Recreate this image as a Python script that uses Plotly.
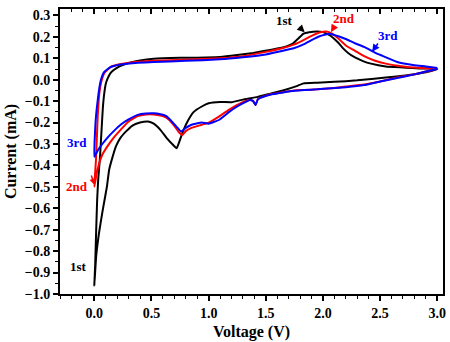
import plotly.graph_objects as go

# ---- data (Voltage V, Current mA), full CV loops: cathodic 3.0->0.0 then anodic 0.0->3.0
v1 = [3.0, 2.9, 2.75, 2.55, 2.3, 2.1, 1.95, 1.83, 1.77, 1.65, 1.54, 1.43, 1.3, 1.2, 1.1, 1.0, 0.94, 0.87, 0.82, 0.78, 0.75, 0.72,
      0.69, 0.63, 0.58, 0.52, 0.47, 0.40, 0.33, 0.28, 0.23, 0.19, 0.16, 0.13, 0.11, 0.09, 0.07, 0.04, 0.017, 0.0,
      0.008, 0.015, 0.025, 0.035, 0.05, 0.065, 0.075, 0.087, 0.1, 0.116, 0.14, 0.17, 0.22, 0.29, 0.4, 0.52, 0.75, 0.9,
      1.1, 1.25, 1.39, 1.55, 1.68, 1.74, 1.79, 1.83, 1.88, 1.95, 2.0, 2.05, 2.09, 2.13, 2.17, 2.22, 2.28, 2.35, 2.42,
      2.55, 2.7, 2.85, 2.95, 3.0]
i1 = [0.05, 0.035, 0.022, 0.01, -0.003, -0.01, -0.014, -0.017, -0.03, -0.05, -0.065, -0.08, -0.093, -0.105, -0.104, -0.11,
      -0.125, -0.15, -0.19, -0.235, -0.28, -0.32, -0.305, -0.27, -0.235, -0.205, -0.195, -0.2, -0.215, -0.24, -0.27, -0.31,
      -0.36, -0.42, -0.5, -0.56, -0.62, -0.72, -0.82, -0.96,
      -0.86, -0.73, -0.56, -0.46, -0.36, -0.22, -0.13, -0.064, -0.02, 0.005, 0.03, 0.045, 0.062, 0.077, 0.09, 0.098, 0.102,
      0.103, 0.106, 0.115, 0.125, 0.14, 0.155, 0.17, 0.195, 0.215, 0.222, 0.225, 0.222, 0.21, 0.195, 0.175, 0.15, 0.125,
      0.104, 0.087, 0.075, 0.062, 0.057, 0.052, 0.052, 0.05]

v2 = [3.0, 2.9, 2.8, 2.65, 2.5, 2.36, 2.2, 2.07, 1.95, 1.84, 1.75, 1.65, 1.54, 1.45, 1.43, 1.41, 1.39, 1.36, 1.32, 1.25,
      1.18, 1.09, 1.0, 0.94, 0.85, 0.8, 0.77, 0.74, 0.7, 0.65, 0.6, 0.52, 0.45, 0.38, 0.3, 0.23, 0.17, 0.116, 0.07, 0.043,
      0.02, 0.0,
      0.008, 0.015, 0.03, 0.045, 0.058, 0.087, 0.145, 0.22, 0.29, 0.52, 0.8, 1.1, 1.3, 1.5, 1.65, 1.75, 1.83, 1.9, 1.97,
      2.03, 2.08, 2.14, 2.2, 2.28, 2.36, 2.45, 2.55, 2.7, 2.85, 3.0]
i2 = [0.05, 0.038, 0.025, 0.01, -0.008, -0.022, -0.032, -0.04, -0.045, -0.048, -0.05, -0.058, -0.068, -0.085, -0.092,
      -0.118, -0.1, -0.095, -0.1, -0.118, -0.14, -0.172, -0.2, -0.21, -0.225, -0.24, -0.258, -0.245, -0.215, -0.185, -0.17,
      -0.162, -0.162, -0.17, -0.195, -0.234, -0.27, -0.31, -0.35, -0.39, -0.44, -0.50,
      -0.43, -0.37, -0.17, -0.06, -0.017, 0.03, 0.06, 0.072, 0.078, 0.088, 0.093, 0.1, 0.11, 0.13, 0.148, 0.165, 0.185,
      0.205, 0.22, 0.225, 0.215, 0.19, 0.16, 0.135, 0.11, 0.09, 0.075, 0.062, 0.055, 0.05]

v3 = [3.0, 2.9, 2.8, 2.65, 2.5, 2.36, 2.2, 2.07, 1.95, 1.84, 1.75, 1.65, 1.54, 1.45, 1.43, 1.41, 1.39, 1.36, 1.32, 1.25,
      1.18, 1.09, 1.0, 0.94, 0.85, 0.8, 0.76, 0.72, 0.67, 0.63, 0.57, 0.52, 0.45, 0.38, 0.3, 0.23, 0.17, 0.116, 0.07, 0.03,
      0.0,
      0.006, 0.015, 0.03, 0.045, 0.058, 0.087, 0.145, 0.22, 0.29, 0.52, 0.8, 1.1, 1.3, 1.5, 1.65, 1.75, 1.83, 1.9, 1.97,
      2.06, 2.12, 2.2, 2.28, 2.36, 2.45, 2.51, 2.65, 2.8, 2.9, 3.0]
i3 = [0.05, 0.038, 0.025, 0.008, -0.008, -0.025, -0.035, -0.04, -0.045, -0.048, -0.052, -0.06, -0.07, -0.085, -0.092,
      -0.118, -0.1, -0.095, -0.105, -0.125, -0.15, -0.188, -0.205, -0.2, -0.21, -0.225, -0.242, -0.22, -0.19, -0.17, -0.16,
      -0.157, -0.158, -0.164, -0.185, -0.21, -0.24, -0.27, -0.3, -0.33, -0.36,
      -0.25, -0.17, -0.095, -0.035, 0.0, 0.037, 0.06, 0.07, 0.075, 0.083, 0.088, 0.095, 0.105, 0.118, 0.135, 0.148, 0.165,
      0.185, 0.203, 0.215, 0.205, 0.19, 0.17, 0.153, 0.128, 0.114, 0.083, 0.068, 0.062, 0.055]

cycle_names = ["1st", "2nd", "3rd"]
colors = ["#000000", "#ff0000", "#0000ff"]

# label positions (text) : top labels and left labels
top_lbl_v = [1.66, 2.18, 2.57]
top_lbl_i = [0.277, 0.286, 0.207]
left_lbl_v = [-0.14, -0.15, -0.15]
left_lbl_i = [-0.87, -0.50, -0.295]
# arrows: tail -> tip
arr_tail_v = [1.78, 2.10, 2.49]
arr_tail_i = [0.253, 0.249, 0.176]
arr_tip_v = [1.84, 2.07, 2.43]
arr_tip_i = [0.221, 0.222, 0.13]

x_ticks = [0.0, 0.5, 1.0, 1.5, 2.0, 2.5, 3.0]
y_ticks = [round(-1.0 + 0.1 * k, 1) for k in range(14)]

fig = go.Figure()
for v, i, c, n in zip([v1, v2, v3], [i1, i2, i3], colors, cycle_names):
    fig.add_trace(go.Scatter(x=v, y=i, mode="lines", name=n,
                             line=dict(color=c, width=2, shape="spline", smoothing=0.4)))

# dummy trace for top axis
fig.add_trace(go.Scatter(x=[None], y=[None], xaxis="x2", showlegend=False))

FONT = "Liberation Serif"
annos = []
for k in range(3):
    annos.append(dict(x=top_lbl_v[k], y=top_lbl_i[k], text=cycle_names[k], showarrow=False,
                      font=dict(family=FONT, size=13, color=colors[k], weight="bold")))
    annos.append(dict(x=left_lbl_v[k], y=left_lbl_i[k], text=cycle_names[k], showarrow=False,
                      font=dict(family=FONT, size=13, color=colors[k], weight="bold")))
    annos.append(dict(x=arr_tip_v[k], y=arr_tip_i[k], ax=arr_tail_v[k], ay=arr_tail_i[k],
                      axref="x", ayref="y", text="", showarrow=True, arrowhead=2, arrowsize=1,
                      arrowwidth=1.5, arrowcolor=colors[k]))
# small red arrow near left 2nd label
annos.append(dict(x=0.0, y=-0.49, ax=-0.03, ay=-0.44, axref="x", ayref="y", text="", showarrow=True,
                  arrowhead=2, arrowsize=0.8, arrowwidth=1.5, arrowcolor=colors[1]))

fig.update_layout(
    width=450, height=342,
    margin=dict(l=60, r=4, t=9, b=47),
    paper_bgcolor="white", plot_bgcolor="white",
    showlegend=False,
    font=dict(family=FONT, color="black"),
    annotations=annos,
    xaxis=dict(range=[-0.3, 3.05], tickvals=x_ticks, tickformat=".1f",
               ticks="outside", ticklen=5, tickwidth=1.5, tickcolor="black",
               minor=dict(dtick=0.1, ticks="outside", ticklen=3, tickwidth=1.2, tickcolor="black"),
               showline=True, linecolor="black", linewidth=2, mirror=True,
               showgrid=False, zeroline=False,
               tickfont=dict(family=FONT, size=14, weight="bold"),
               title=dict(text="Voltage (V)", font=dict(family=FONT, size=16, weight="bold"), standoff=6)),
    xaxis2=dict(range=[-0.3, 3.05], overlaying="x", side="top", tickvals=x_ticks,
                ticks="inside", ticklen=5, tickwidth=1.5, tickcolor="black", showticklabels=False,
                minor=dict(dtick=0.1, ticks="inside", ticklen=3, tickwidth=1.2, tickcolor="black"),
                showgrid=False, zeroline=False, showline=False),
    yaxis=dict(range=[-1.0, 0.33], tickvals=y_ticks, tickformat=".1f",
               ticks="outside", ticklen=5, tickwidth=1.5, tickcolor="black",
               minor=dict(dtick=0.05, ticks="outside", ticklen=3, tickwidth=1.2, tickcolor="black"),
               showline=True, linecolor="black", linewidth=2, mirror=True,
               showgrid=False, zeroline=False,
               tickfont=dict(family=FONT, size=14, weight="bold"),
               title=dict(text="Current (mA)", font=dict(family=FONT, size=16, weight="bold"), standoff=4)),
)

fig.write_html("out.html")
